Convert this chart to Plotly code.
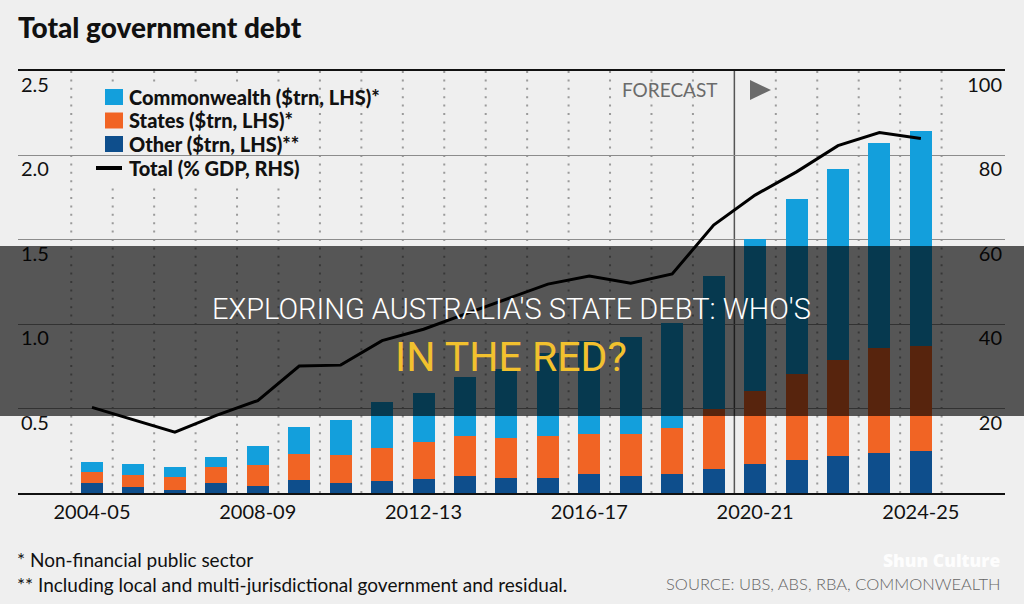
import plotly.graph_objects as go

categories = ["2004-05", "2005-06", "2006-07", "2007-08", "2008-09", "2009-10", "2010-11",
              "2011-12", "2012-13", "2013-14", "2014-15", "2015-16", "2016-17", "2017-18",
              "2018-19", "2019-20", "2020-21", "2021-22", "2022-23", "2023-24", "2024-25"]
other = [0.059, 0.036, 0.015, 0.057, 0.039, 0.077, 0.059, 0.069, 0.083, 0.098, 0.087,
         0.091, 0.111, 0.098, 0.115, 0.145, 0.174, 0.198, 0.219, 0.239, 0.247]
states = [0.067, 0.073, 0.081, 0.095, 0.129, 0.154, 0.166, 0.198, 0.221, 0.239, 0.241,
          0.245, 0.237, 0.251, 0.273, 0.350, 0.429, 0.509, 0.571, 0.620, 0.622]
commonwealth = [0.059, 0.061, 0.059, 0.063, 0.108, 0.160, 0.205, 0.270, 0.289, 0.348, 0.407,
                0.496, 0.553, 0.578, 0.620, 0.790, 0.903, 1.033, 1.127, 1.214, 1.278]
total_gdp = [20.3, 17.3, 14.4, 18.4, 21.9, 30.1, 30.3, 36.1, 38.8, 42.4, 46.0,
             49.5, 51.4, 49.7, 51.9, 63.5, 70.6, 76.1, 82.3, 85.4, 84.0]

x_ticks = ["2004-05", "2008-09", "2012-13", "2016-17", "2020-21", "2024-25"]
left_ticks = [0.5, 1.0, 1.5, 2.0, 2.5]
left_labels = ["0.5", "1.0", "1.5", "2.0", "2.5"]
right_ticks = [20, 40, 60, 80, 100]

NAME_CW = "Commonwealth ($trn, LHS)*"
NAME_ST = "States ($trn, LHS)*"
NAME_OT = "Other ($trn, LHS)**"
NAME_TOT = "Total (% GDP, RHS)"

FOOTNOTES = ["* Non-financial public sector",
             "** Including local and multi-jurisdictional government and residual."]

BG = "#efefef"
C_CW = "#139fdc"
C_ST = "#f16424"
C_OT = "#0e4e8c"
FONT = "Lato, 'Open Sans', sans-serif"

# plot-area geometry in pixels (for placing decorations in paper coords)
W, H = 1024, 604
L, R, T, B = 18, 19, 71, 111
PW, PH = W - L - R, H - T - B


def px(xp):
    return (xp - L) / PW


def py(yp):
    return (H - B - yp) / PH


fig = go.Figure()
fig.add_trace(go.Bar(x=categories, y=other, name=NAME_OT,
                     marker=dict(color=C_OT, line=dict(width=0))))
fig.add_trace(go.Bar(x=categories, y=states, name=NAME_ST,
                     marker=dict(color=C_ST, line=dict(width=0))))
fig.add_trace(go.Bar(x=categories, y=commonwealth, name=NAME_CW,
                     marker=dict(color=C_CW, line=dict(width=0))))
fig.add_trace(go.Scatter(x=categories, y=total_gdp, name=NAME_TOT, yaxis="y2",
                         mode="lines", line=dict(color="#000000", width=3)))

shapes = []
n = len(categories)
for i in range(-1, n):
    pos = i + 0.5
    if abs(pos - 15.5) < 1e-9:
        continue
    shapes.append(dict(type="line", xref="x", yref="paper", x0=pos, x1=pos, y0=0, y1=1,
                       line=dict(color="#9a9a9a", width=2, dash="2px,6.4px"), layer="below"))
# forecast divider
shapes.append(dict(type="line", xref="x", yref="paper", x0=15.5, x1=15.5, y0=0, y1=1,
                   line=dict(color="#555555", width=1.5), layer="below"))
# legend background (masks grid)
shapes.append(dict(type="rect", xref="paper", yref="paper", x0=px(88), x1=px(316),
                   y0=py(186), y1=py(86), fillcolor=BG, line=dict(width=0), layer="between"))
# legend swatches
legend_items = [(NAME_CW, C_CW, 97), (NAME_ST, C_ST, 120.5), (NAME_OT, C_OT, 144)]
for name, col, cy in legend_items:
    shapes.append(dict(type="rect", xref="paper", yref="paper", x0=px(105), x1=px(123),
                       y0=py(cy + 8), y1=py(cy - 8), fillcolor=col, line=dict(width=0),
                       layer="above"))
shapes.append(dict(type="line", xref="paper", yref="paper", x0=px(96), x1=px(122),
                   y0=py(168), y1=py(168), line=dict(color="#000000", width=4), layer="above"))
# forecast triangle
shapes.append(dict(type="path", xref="paper", yref="paper",
                   path=f"M {px(750)} {py(80)} L {px(771)} {py(90)} L {px(750)} {py(100)} Z",
                   fillcolor="#6b6b6b", line=dict(width=0), layer="above"))
# dark overlay band
shapes.append(dict(type="rect", xref="paper", yref="paper", x0=px(0) - 0.002, x1=px(W) + 0.002,
                   y0=py(416), y1=py(246), fillcolor="rgba(0,0,0,0.64)",
                   line=dict(width=0), layer="above"))

annotations = []
for name, _, cy in legend_items + [(NAME_TOT, None, 168)]:
    annotations.append(dict(text=name, xref="paper", yref="paper", x=px(127), y=py(cy),
                            xanchor="left", yanchor="middle", showarrow=False,
                            font=dict(family=FONT, size=20, color="#111111", weight=900)))

annotations += [
    dict(text="FORECAST", xref="paper", yref="paper", x=px(720), y=py(90),
         xanchor="right", yanchor="middle", showarrow=False,
         font=dict(family=FONT, size=19, color="#6b6b6b")),
    dict(text="<br>".join(FOOTNOTES), xref="paper", yref="paper", x=px(15), y=py(572),
         xanchor="left", yanchor="middle", align="left", showarrow=False,
         font=dict(family=FONT, size=19, color="#111111")),
    dict(text="SOURCE: UBS, ABS, RBA, COMMONWEALTH", xref="paper", yref="paper", x=px(1003), y=py(584),
         xanchor="right", yanchor="middle", showarrow=False,
         font=dict(family=FONT, size=16.5, color="#666666", weight=300)),
    dict(text="Shun Culture", xref="paper", yref="paper", x=px(1003), y=py(560),
         xanchor="right", yanchor="middle", showarrow=False, opacity=0.9,
         font=dict(family="'Open Sans', sans-serif", size=17.5, color="#ffffff", weight=800)),
    dict(text="EXPLORING AUSTRALIA'S STATE DEBT: WHO'S", xref="paper", yref="paper",
         x=px(511), y=py(309), xanchor="center", yanchor="middle", showarrow=False,
         font=dict(family="Roboto, sans-serif", size=29, color="#ffffff", weight=300)),
    dict(text="IN THE RED?", xref="paper", yref="paper",
         x=px(511), y=py(357), xanchor="center", yanchor="middle", showarrow=False,
         font=dict(family="Roboto, sans-serif", size=41, color="#f2c12e")),
]

fig.update_layout(
    width=W, height=H,
    margin=dict(l=L, r=R, t=T, b=B, pad=0),
    paper_bgcolor=BG, plot_bgcolor=BG,
    barmode="stack", bargap=0.47,
    showlegend=False,
    title=dict(text="Total government debt", x=18 / W, xref="container", xanchor="left",
               y=1 - 28 / H, yref="container", yanchor="middle",
               font=dict(family=FONT, size=28, color="#111111", weight=900)),
    xaxis=dict(type="category", range=[-1.785, 22.03], tickmode="array", tickvals=x_ticks,
               ticktext=x_ticks, showgrid=False, showline=True, linecolor="#111111",
               linewidth=2, mirror=True, ticks="", zeroline=False,
               tickfont=dict(family=FONT, size=20, color="#111111")),
    yaxis=dict(range=[0, 2.5], tickmode="array", tickvals=left_ticks, ticktext=left_labels,
               showgrid=True, gridcolor="#8c8c8c", gridwidth=1, zeroline=False,
               showline=False, ticks="", ticklabelposition="inside bottom",
               tickfont=dict(family=FONT, size=20, color="#111111")),
    yaxis2=dict(range=[0, 100], overlaying="y", side="right", tickmode="array",
                tickvals=right_ticks, showgrid=False, zeroline=False, showline=False,
                ticks="", ticklabelposition="inside bottom",
                tickfont=dict(family=FONT, size=20, color="#111111")),
    shapes=shapes,
    annotations=annotations,
)

fig.write_html("out.html")
